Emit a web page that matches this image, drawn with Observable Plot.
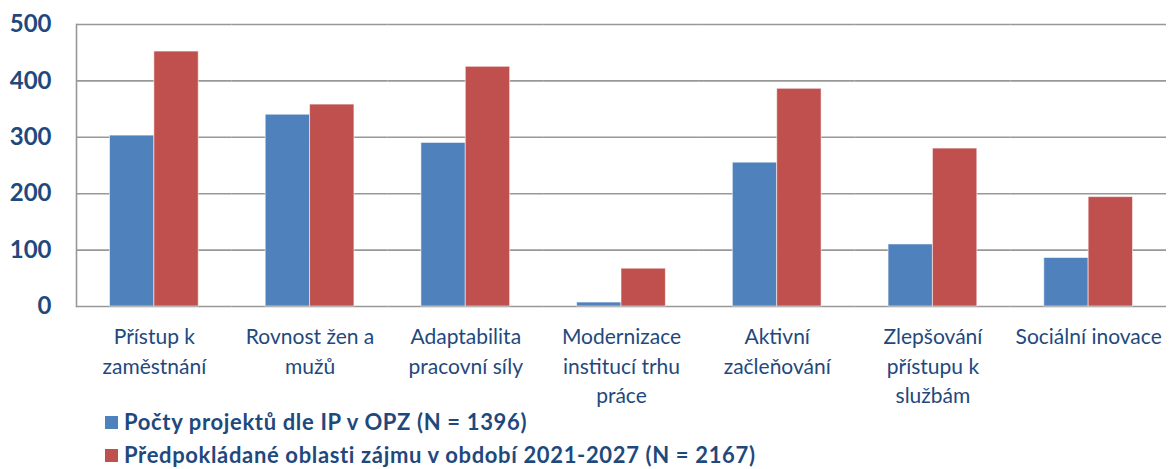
<!DOCTYPE html>
<html>
<head>
<meta charset="utf-8">
<script src="https://cdn.jsdelivr.net/npm/d3@7"></script>
<script src="https://cdn.jsdelivr.net/npm/@observablehq/plot@0.6"></script>
<style>
  html, body { margin: 0; padding: 0; background: #fff; }
  #chart svg { display: block; }
  .legend { font-family: Lato, sans-serif; font-weight: bold; font-size: 22px; letter-spacing: 0.65px; color: #1F497D; padding-left: 105px; margin-top: -1px; }
  .legend .item { height: 22px; line-height: 22px; margin-bottom: 11px; display: flex; align-items: center; white-space: nowrap; }
  .legend .sw { width: 13px; height: 13px; display: inline-block; margin-right: 6px; flex: none; }
</style>
</head>
<body>
<div id="chart"></div>
<div class="legend" id="legend"></div>
<script>
const categories = [
  "Přístup k zaměstnání",
  "Rovnost žen a mužů",
  "Adaptabilita pracovní síly",
  "Modernizace institucí trhu práce",
  "Aktivní začleňování",
  "Zlepšování přístupu k službám",
  "Sociální inovace"
];
const tickLabels = [
  "Přístup k\nzaměstnání",
  "Rovnost žen a\nmužů",
  "Adaptabilita\npracovní síly",
  "Modernizace\ninstitucí trhu\npráce",
  "Aktivní\nzačleňování",
  "Zlepšování\npřístupu k\nslužbám",
  "Sociální inovace"
];
const series = [
  "Počty projektů dle IP v OPZ (N = 1396)",
  "Předpokládané oblasti zájmu v období 2021-2027 (N = 2167)"
];
const projects = [303, 340, 290, 7, 255, 110, 86];
const expected = [452, 358, 425, 67, 386, 280, 194];
const yTicks = [0, 100, 200, 300, 400, 500];
const colors = ["#4F81BD", "#C0504D"];

const rows = categories.flatMap((c, i) => [
  {cat: c, series: series[0], value: projects[i]},
  {cat: c, series: series[1], value: expected[i]}
]);

const chart = Plot.plot({
  width: 1171,
  height: 412,
  marginLeft: 76,
  marginRight: 5,
  marginTop: 24,
  marginBottom: 106,
  style: {fontFamily: "Lato, sans-serif", background: "white"},
  fx: {domain: categories, padding: 0, round: false, axis: null},
  x: {domain: series, paddingInner: 0, paddingOuter: 0.755, round: false, axis: null},
  y: {domain: [0, 500], axis: null},
  color: {domain: series, range: colors},
  marks: [
    Plot.ruleY(yTicks, {stroke: "#989898", strokeWidth: 1.6}),
    Plot.barY(rows, {fx: "cat", x: "series", y: "value", fill: "series", stroke: "#ffffff", strokeOpacity: 0.55, strokeWidth: 1}),
    Plot.axisY({ticks: yTicks, tickSize: 0, tickPadding: 25, fontSize: 24, fontWeight: "bold", fill: "#1F497D", label: null}),
    Plot.frame({anchor: "left", facetAnchor: "left", stroke: "#989898", strokeWidth: 1.6}),
    Plot.text(categories, {
      fx: d => d,
      text: (d, i) => tickLabels[i],
      frameAnchor: "bottom",
      lineAnchor: "top",
      dy: 17,
      fontSize: 21,
      lineHeight: 1.4,
      fill: "#1F497D"
    })
  ]
});
document.getElementById("chart").appendChild(chart);

const legend = document.getElementById("legend");
series.forEach((s, i) => {
  const item = document.createElement("div");
  item.className = "item";
  const sw = document.createElement("span");
  sw.className = "sw";
  sw.style.background = colors[i];
  item.appendChild(sw);
  item.appendChild(document.createTextNode(s));
  legend.appendChild(item);
});
</script>
</body>
</html>
